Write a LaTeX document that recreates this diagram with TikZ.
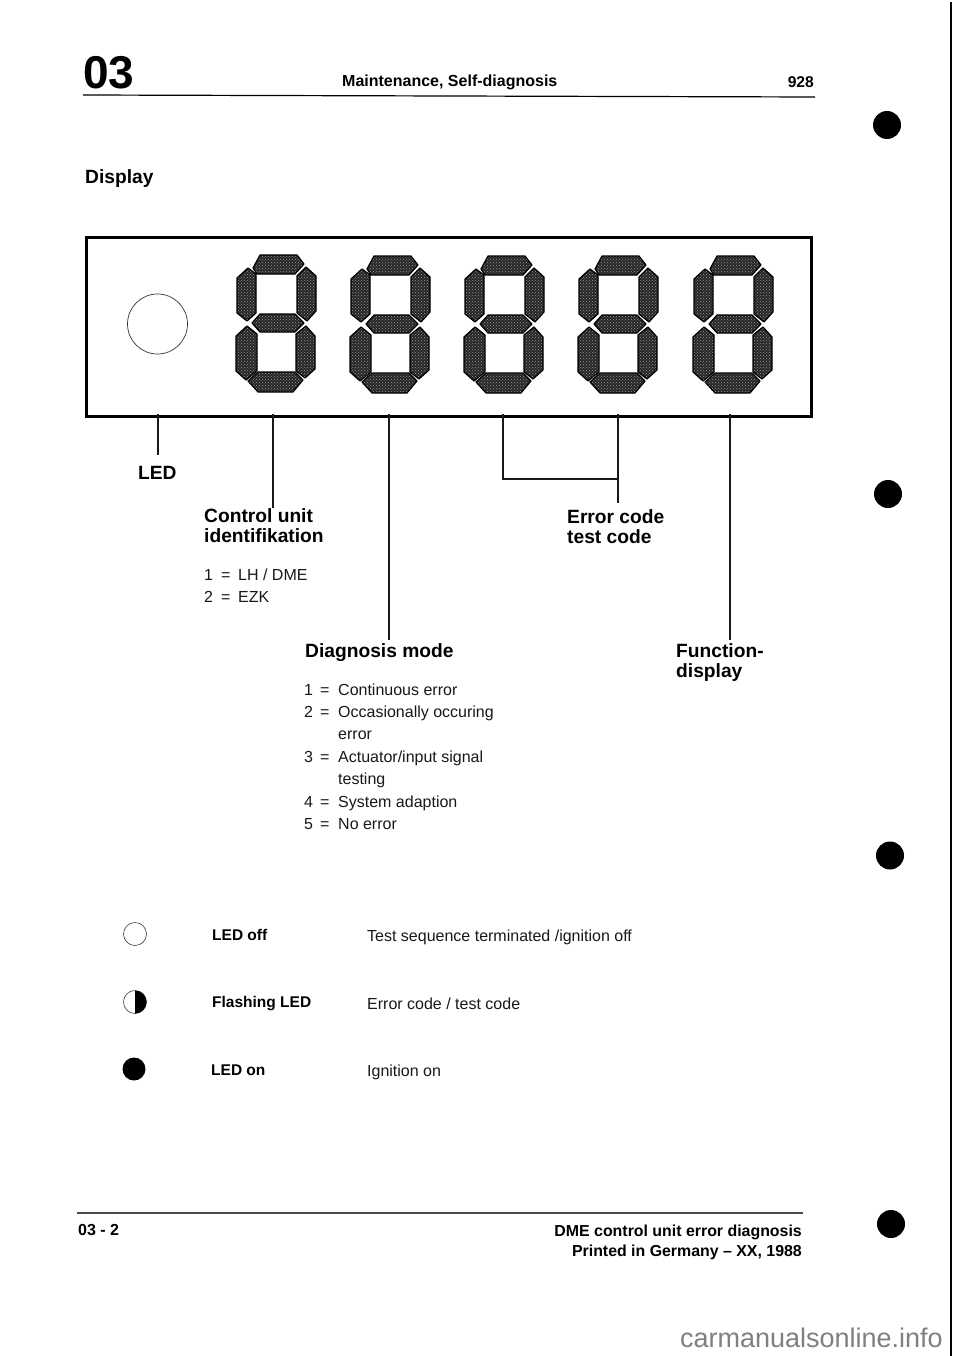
\documentclass[tikz,border=0pt]{standalone}
\usepackage{fontspec}
\usetikzlibrary{patterns}
\setmainfont{Liberation Sans}
\tikzset{
  seg/.style={preaction={fill=black!85},pattern=crosshatch dots,pattern color=black!40,draw=black,line width=1.2pt,line join=round},
  wire/.style={draw=black!90,line width=1.7pt},
  hd/.style={font=\bfseries\fontsize{19.2}{21}\selectfont,inner sep=0pt,anchor=base west,align=left},
  bl/.style={font=\bfseries\fontsize{15.5}{17}\selectfont,inner sep=0pt,anchor=base west},
  tx/.style={font=\fontsize{16}{18}\selectfont,inner sep=0pt,anchor=base west,text=black!90},
  hole/.style={circle,fill=black,inner sep=0pt,minimum size=28pt},
  led/.style={circle,draw=black!75,line width=0.6pt,inner sep=0pt,minimum size=23pt}
}
\newcommand{\digitat}[2]{%
 \begin{scope}[shift={(#1,#2)}]
  \path[seg] (24,0)--(61,0)--(68,9)--(59,19)--(21,19)--(17,13)--cycle;
  \path[seg] (12,13)--(20,19)--(20,58)--(11,66)--(1,58)--(1,23)--cycle;
  \path[seg] (70,12)--(80,21)--(80,56)--(71,66)--(61,58)--(61,21)--cycle;
  \path[seg] (24,59)--(59,59)--(68,68)--(59,77)--(24,77)--(16,68)--cycle;
  \path[seg] (11,71)--(21,79)--(21,116)--(10,125)--(0,116)--(0,81)--cycle;
  \path[seg] (70,71)--(79,81)--(79,114)--(69,123)--(60,116)--(60,79)--cycle;
  \path[seg] (12,126)--(22,117)--(59,117)--(67,125)--(57,137)--(22,137)--cycle;
 \end{scope}}
\begin{document}
\begin{tikzpicture}[x=1pt,y=-1pt]
\useasboundingbox (0,0) rectangle (960,1356);
\fill[white] (0,0) rectangle (960,1356);
% header
\node[inner sep=0pt,anchor=base west,font=\bfseries\fontsize{46}{50}\selectfont] (chap) at (83,89) {03};
\node[bl,font=\bfseries\fontsize{16}{18}\selectfont] (title) at (342,87) {Maintenance, Self-diagnosis};
\node[bl,anchor=base east,font=\bfseries\fontsize{15.6}{18}\selectfont] (pg) at (814,88) {928};
\coordinate (hl) at (83,95); \coordinate (hr) at (815,97);
\draw[line width=1.2pt] (hl)--(hr);
\node[hd] (disp) at (85,184) {Display};
% panel
\node[draw,line width=3.2pt,inner sep=0pt,minimum width=725pt,minimum height=179pt,anchor=north west] (panel) at (85,236) {};
\node[circle,draw=black!80,line width=0.7pt,minimum size=60pt,inner sep=0pt] (lamp) at (157.5,324) {};
\digitat{236}{255}\digitat{350}{256}\digitat{464}{256}\digitat{578}{256}\digitat{693}{256}
% labels
\node[hd] (lLED) at (138,479) {LED};
\node[hd] (lCU) at (204,522) {Control unit};
\node[hd] (lCU2) at (204,542) {identifikation};
\node[tx] (c1) at (204,580) {1};
\node[tx] (c1e) at (221,580) {=};
\node[tx] (c1t) at (238,580) {LH / DME};
\node[tx] (c2) at (204,602) {2};
\node[tx] (c2e) at (221,602) {=};
\node[tx] (c2t) at (238,602) {EZK};
\node[hd] (lDM) at (305,657) {Diagnosis mode};
\foreach \nm/\yy/\tt in {1/695/Continuous error,2/717/Occasionally occuring,3/762/Actuator\slash input signal,4/807/System adaption,5/829/No error}{
  \node[tx] (dn\nm) at (304,\yy) {\nm};
  \node[tx] (de\nm) at (320,\yy) {=};
  \node[tx] (dt\nm) at (338,\yy) {\tt};
}
\node[tx] (dc2) at (338,739) {error};
\node[tx] (dc3) at (338,784) {testing};
\node[hd] (lEC) at (567,523) {Error code};
\node[hd] (lEC2) at (567,543) {test code};
\node[hd] (lF) at (676,657) {Function-};
\node[hd] (lF2) at (676,677) {display};
% connectors
\coordinate (a1) at (158,414); \coordinate (a2) at (158,455);
\coordinate (b1) at (273,414); \coordinate (b2) at (273,508);
\coordinate (e1) at (389,414); \coordinate (e2) at (389,640);
\coordinate (f1) at (503,414); \coordinate (f2) at (503,479);
\coordinate (g1) at (618,414); \coordinate (g2) at (618,479); \coordinate (g3) at (618,503);
\coordinate (h1) at (730,414); \coordinate (h2) at (730,640);
\draw[wire] (a1)--(a2);
\draw[wire] (b1)--(b2);
\draw[wire] (e1)--(e2);
\draw[wire] (f1)--(f2)--(g2);
\draw[wire] (g1)--(g2)--(g3);
\draw[wire] (h1)--(h2);
% legend
\node[led] (k1) at (135,934) {};
\node[bl] (k1a) at (212,940) {LED off};
\node[tx] (k1b) at (367,941) {Test sequence terminated /ignition off};
\node[led] (k2) at (135,1002) {};
\fill (135,990.5) arc[start angle=-90,end angle=90,radius=11.5] -- cycle;
\node[bl] (k2a) at (212,1007) {Flashing LED};
\node[tx] (k2b) at (367,1009) {Error code / test code};
\node[circle,fill=black,minimum size=23pt,inner sep=0pt] (k3) at (134,1069) {};
\node[bl] (k3a) at (211,1075) {LED on};
\node[tx] (k3b) at (367,1076) {Ignition on};
% footer
\coordinate (fl) at (77,1213); \coordinate (fr) at (803,1213);
\draw[line width=1.4pt,black!70] (fl)--(fr);
\node[bl,font=\bfseries\fontsize{16}{18}\selectfont] (f3) at (78,1235) {03 - 2};
\node[bl,anchor=base east,font=\bfseries\fontsize{15.9}{18}\selectfont] (f1) at (802,1236) {DME control unit error diagnosis};
\node[bl,anchor=base east,font=\bfseries\fontsize{15.9}{18}\selectfont] (f2) at (802,1256) {Printed in Germany -- XX, 1988};
% punched holes and page edge
\node[hole] (h1a) at (887,125) {};
\node[hole] (h2a) at (888,494) {};
\node[hole] (h3a) at (890,855.5) {};
\node[hole] (h4a) at (891,1224) {};
\coordinate (p1) at (951,2); \coordinate (p2) at (951,240); \coordinate (p3) at (951,1356);
\draw[line width=2.6pt] (p1)--(p2);
\draw[line width=1.6pt] (p2)--(p3);
\node[inner sep=0pt,anchor=base east,font=\fontsize{27}{30}\selectfont,text=black!50] (wm) at (943,1347) {carmanualsonline.info};
\end{tikzpicture}
\end{document}
